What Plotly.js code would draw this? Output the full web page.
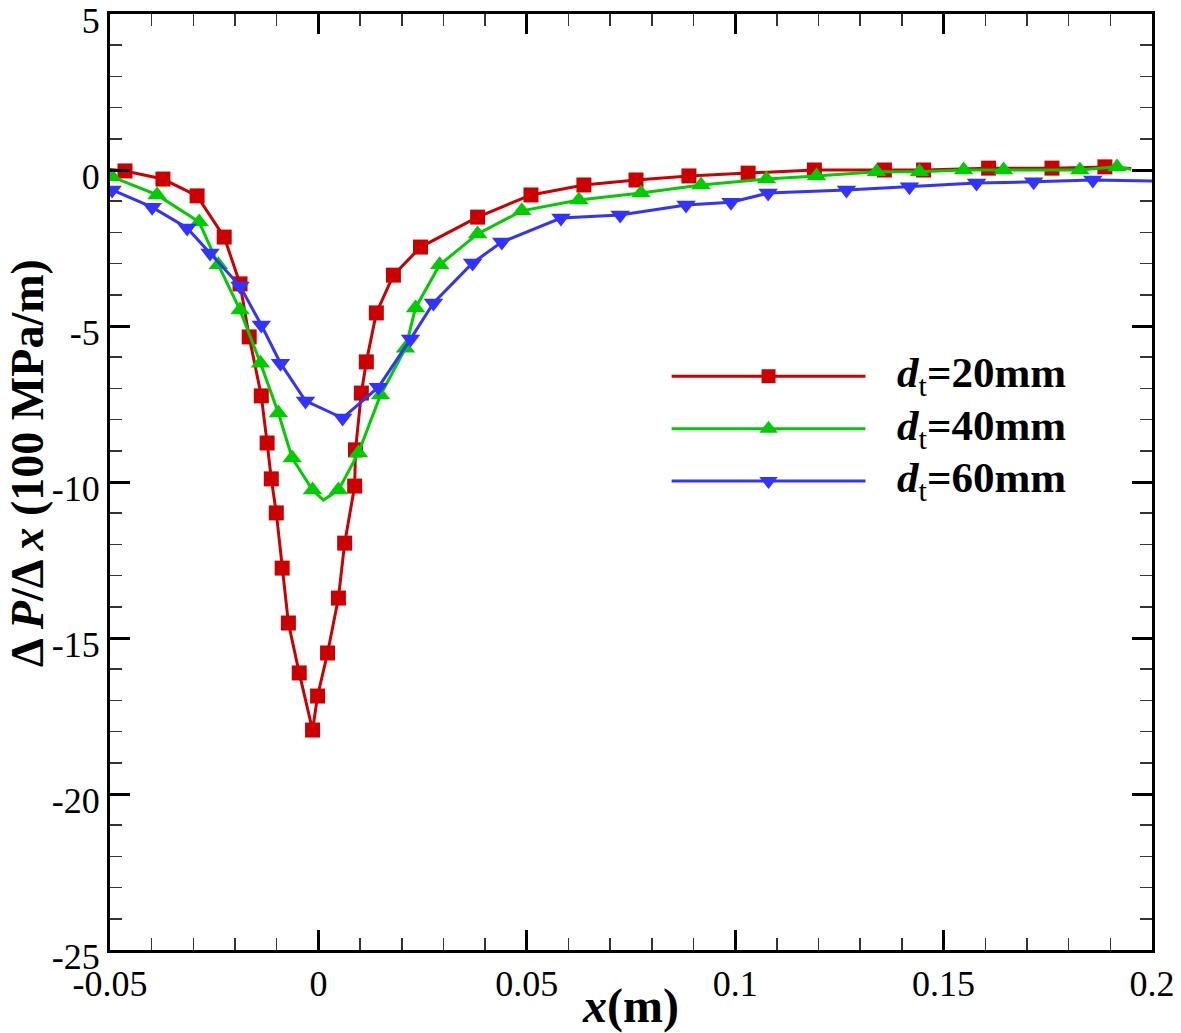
<!DOCTYPE html>
<html><head><meta charset="utf-8">
<script src="https://cdn.plot.ly/plotly-3.0.1.min.js"></script>
<style>html,body{margin:0;padding:0;background:#fff}#chart{width:1181px;height:1033px}</style>
</head><body><div id="chart"></div><script>
// ---- data ----
const redX = [-0.050, -0.0464, -0.0373, -0.0291, -0.0226, -0.0188, -0.0166, -0.0137, -0.0123, -0.0113, -0.0101, -0.0087, -0.0072, -0.0046, -0.0014, -0.0002, 0.0022, 0.0048, 0.0063, 0.0087, 0.0089, 0.0103, 0.0115, 0.0139, 0.0180, 0.0245, 0.0382, 0.0510, 0.0637, 0.0762, 0.0889, 0.1031, 0.1190, 0.1358, 0.1452, 0.1608, 0.1760, 0.1887, 0.195];
const redY = [0.02, -0.03, -0.29, -0.83, -2.15, -3.65, -5.35, -7.24, -8.75, -9.90, -10.99, -12.76, -14.52, -16.12, -17.95, -16.86, -15.48, -13.72, -11.96, -10.13, -8.97, -7.15, -6.15, -4.58, -3.37, -2.47, -1.51, -0.80, -0.48, -0.32, -0.19, -0.10, 0.0, 0.0, 0.0, 0.06, 0.06, 0.10, 0.05];
const redMarked = [0,1,1,1,1,1,1,1,1,1,1,1,1,1,1,1,1,1,1,1,1,1,1,1,1,1,1,1,1,1,1,1,1,1,1,1,1,1,0];

const greenX = [-0.0495, -0.0387, -0.0286, -0.0240, -0.0188, -0.0139, -0.0096, -0.0063, -0.0014, 0.0012, 0.0048, 0.0096, 0.0149, 0.0209, 0.0233, 0.0291, 0.0382, 0.0488, 0.0625, 0.0774, 0.0918, 0.1075, 0.1195, 0.1339, 0.1442, 0.1548, 0.1644, 0.1827, 0.1916, 0.195];
const greenY = [-0.22, -0.80, -1.67, -3.04, -4.49, -6.19, -7.79, -9.23, -10.26, -10.58, -10.26, -9.07, -7.21, -5.71, -4.42, -3.04, -2.05, -1.31, -0.96, -0.74, -0.48, -0.29, -0.19, -0.06, -0.06, 0.0, 0.0, 0.0, 0.10, 0.02];
const greenMarked = [1,1,1,1,1,1,1,1,1,0,1,1,1,1,1,1,1,1,1,1,1,1,1,1,1,1,1,1,1,0];

const blueX = [-0.0495, -0.0399, -0.0315, -0.0260, -0.0188, -0.0137, -0.0091, -0.0031, 0.0058, 0.0144, 0.0221, 0.0276, 0.0370, 0.0440, 0.0582, 0.0724, 0.0882, 0.0990, 0.1079, 0.1267, 0.1418, 0.1579, 0.1716, 0.1858, 0.200];
const blueY = [-0.64, -1.19, -1.86, -2.66, -3.72, -4.97, -6.19, -7.40, -7.95, -6.96, -5.42, -4.26, -2.98, -2.31, -1.54, -1.44, -1.12, -1.03, -0.74, -0.64, -0.54, -0.42, -0.38, -0.32, -0.35];
const blueMarked = [1,1,1,1,1,1,1,1,1,1,1,1,1,1,1,1,1,1,1,1,1,1,1,1,0];

const seriesNames = ['<b><i>d</i></b><sub>t</sub><b>=20mm</b>', '<b><i>d</i></b><sub>t</sub><b>=40mm</b>', '<b><i>d</i></b><sub>t</sub><b>=60mm</b>'];
const yTitle = '<b>Δ <i>P</i>/Δ <i>x</i> (100 MPa/m)</b>';
const xTitle = '<b><i>x</i>(m)</b>';

const xTickVals = [-0.05, 0, 0.05, 0.1, 0.15, 0.2];
const xTickText = ['-0.05', '0', '0.05', '0.1', '0.15', '0.2'];
const yTickVals = [5, 0, -5, -10, -15, -20, -25];
const yTickText = ['5', '0', '-5', '-10', '-15', '-20', '-25'];

// ---- styles ----
const FONT = 'Times New Roman';
const colors = ['#CC0000', '#00CC00', '#3333FF'];
const symbols = ['square', 'triangle-up', 'triangle-down'];
const msize = [15, 17, 17];
const xs = [redX, greenX, blueX], ys = [redY, greenY, blueY], marks = [redMarked, greenMarked, blueMarked];

const traces = [];
for (let i = 0; i < 3; i++) {
  traces.push({
    x: xs[i], y: ys[i], type: 'scatter', mode: 'lines+markers',
    line: {color: colors[i], width: 3},
    marker: {symbol: symbols[i], color: colors[i], opacity: 1, size: marks[i].map(m => m ? msize[i] : 0), line: {width: 0}},
    showlegend: false, hoverinfo: 'skip'
  });
}

// custom legend (long sample lines), drawn on an overlay axis in [0,1]
const legRows = [0.613, 0.557, 0.501];
const legX0 = 0.539, legX1 = 0.725, legXm = 0.632, legTextX = 0.753;
const annotations = [];
for (let i = 0; i < 3; i++) {
  traces.push({x: [legX0, legX1], y: [legRows[i], legRows[i]], xaxis: 'x2', yaxis: 'y2', type: 'scatter', mode: 'lines',
    line: {color: colors[i], width: 3}, showlegend: false, hoverinfo: 'skip'});
  traces.push({x: [legXm], y: [legRows[i]], xaxis: 'x2', yaxis: 'y2', type: 'scatter', mode: 'markers',
    marker: {symbol: symbols[i], color: colors[i], opacity: 1, size: msize[i] - 1, line: {width: 0}}, showlegend: false, hoverinfo: 'skip'});
  annotations.push({xref: 'paper', yref: 'paper', x: legTextX, y: legRows[i], xanchor: 'left', yanchor: 'middle',
    text: seriesNames[i], showarrow: false, font: {family: FONT, size: 43, color: '#000'}});
}
// y-axis title placed as a rotated annotation (reference title sits slightly above centre)
annotations.push({xref: 'paper', yref: 'paper', x: -0.079, y: 0.52, xanchor: 'center', yanchor: 'middle',
  textangle: -90, text: yTitle, showarrow: false, font: {family: FONT, size: 46, color: '#000'}});

const axisCommon = {
  showline: true, linewidth: 3, linecolor: '#000', mirror: 'allticks',
  ticks: 'inside', ticklen: 20, tickwidth: 3, tickcolor: '#000',
  showgrid: false, zeroline: false, tickmode: 'array', ticklabeloverflow: 'allow',
  tickfont: {family: FONT, size: 36, color: '#000'}
};

const layout = {
  width: 1181, height: 1033,
  margin: {l: 110, r: 29, t: 14, b: 83},
  paper_bgcolor: '#fff', plot_bgcolor: '#fff',
  font: {family: FONT},
  showlegend: false,
  xaxis: Object.assign({}, axisCommon, {
    range: [-0.05, 0.2], tickvals: xTickVals, ticktext: xTickText,
    minor: {ticks: 'inside', ticklen: 12, tickwidth: 1.5, tickcolor: '#333', tickmode: 'linear', tick0: 0, dtick: 0.01},
    title: {text: xTitle, font: {family: FONT, size: 48, color: '#000'}, standoff: 0}
  }),
  yaxis: Object.assign({}, axisCommon, {
    range: [-25, 5], tickvals: yTickVals, ticktext: yTickText, ticklabelshift: 6,
    minor: {ticks: 'inside', ticklen: 12, tickwidth: 1.5, tickcolor: '#333', tickmode: 'linear', tick0: 0, dtick: 1}
  }),
  xaxis2: {overlaying: 'x', anchor: 'y2', range: [0, 1], visible: false, fixedrange: true},
  yaxis2: {overlaying: 'y', anchor: 'x2', range: [0, 1], visible: false, fixedrange: true},
  annotations: annotations
};

Plotly.newPlot('chart', traces, layout, {displayModeBar: false, staticPlot: true});
</script></body></html>
